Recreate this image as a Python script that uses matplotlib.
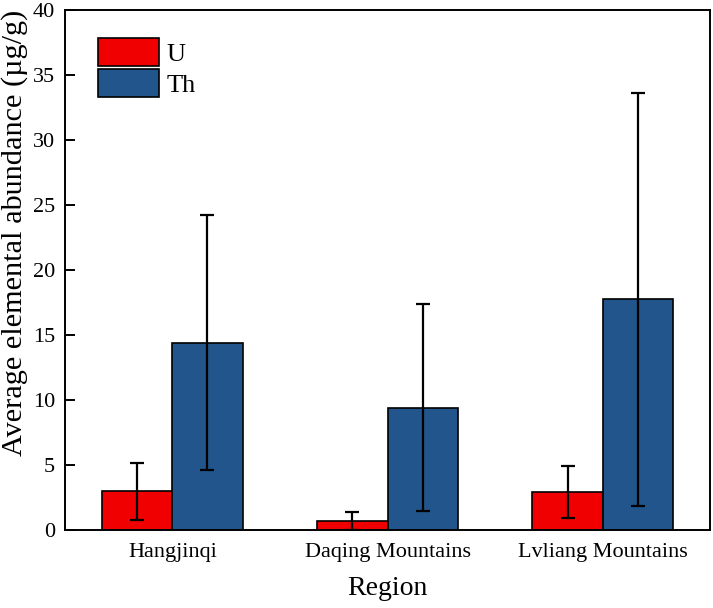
import numpy as np
import matplotlib.pyplot as plt

plt.rcParams['font.family'] = ['Liberation Serif', 'DejaVu Serif']

regions = ["Hangjinqi", "Daqing Mountains", "Lvliang Mountains"]
u_mean = [3.0, 0.72, 2.9]
u_err = [2.18, 0.70, 2.0]
th_mean = [14.4, 9.41, 17.75]
th_err = [9.8, 7.95, 15.86]

x = np.arange(1, len(regions) + 1)
w = 0.326

fig = plt.figure(figsize=(7.13, 6.08), dpi=100)
ax = fig.add_axes([0.091, 0.128, 0.905, 0.856])

ekw = dict(elinewidth=1.6, capthick=1.6, ecolor="black")
ax.bar(x - w / 2, u_mean, w, yerr=u_err, capsize=5, color="#F00000",
       edgecolor="black", linewidth=1.2, error_kw=ekw, label="U")
ax.bar(x + w / 2, th_mean, w, yerr=th_err, capsize=5, color="#21558C",
       edgecolor="black", linewidth=1.2, error_kw=ekw, label="Th")

ax.set_xlim(0.5, 3.5)
ax.set_ylim(0, 40)
ax.set_yticks(np.arange(0, 41, 5))
ax.set_xticks(x)
ax.set_xticklabels(regions)
ax.tick_params(axis="x", length=0, labelsize=16, pad=9)
ax.tick_params(axis="y", length=7, width=1.4, labelsize=16, direction="in", pad=7)
for s in ax.spines.values():
    s.set_linewidth(1.4)

ax.set_xlabel("Region", fontsize=20, labelpad=10)
ax.set_ylabel("Average elemental abundance (µg/g)", fontsize=21.8)
ax.yaxis.set_label_coords(-0.057, 0.571)

ax.legend(loc="upper left", frameon=False, fontsize=19, handlelength=2.3,
          handleheight=1.25, labelspacing=0.12, handletextpad=0.3,
          borderaxespad=0.0, bbox_to_anchor=(0.035, 0.966))

fig.savefig("out.png", dpi=100)
